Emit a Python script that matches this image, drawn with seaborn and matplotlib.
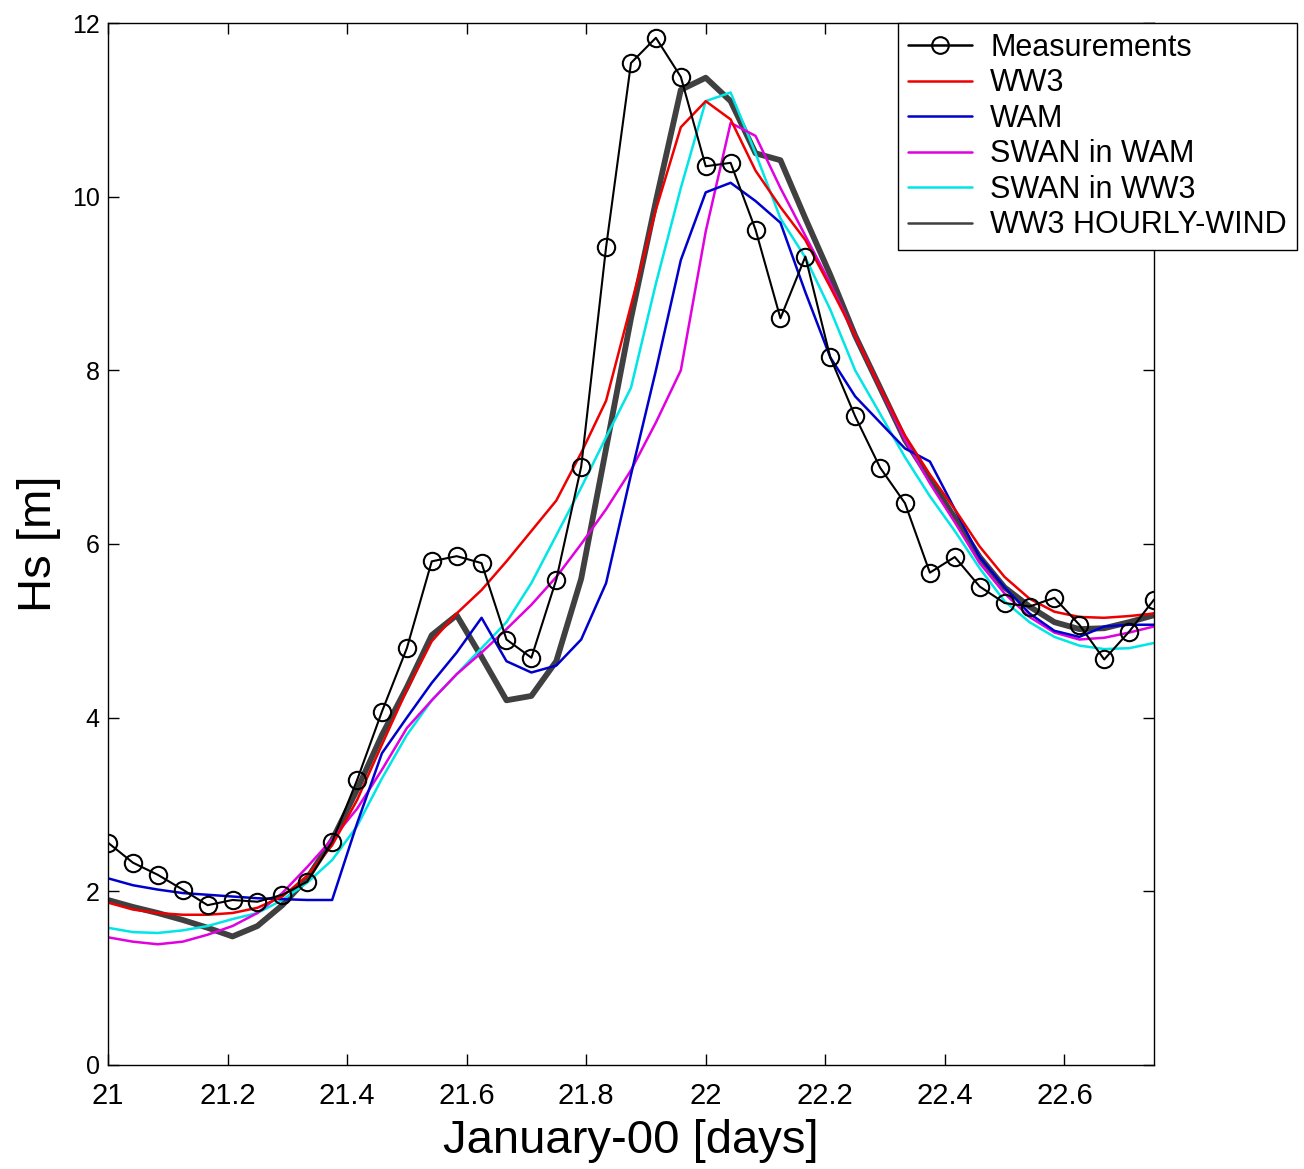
import numpy as np
import pandas as pd
import matplotlib
matplotlib.use("Agg")
import matplotlib.pyplot as plt
import seaborn as sns

sns.set_style("ticks")
plt.rcParams['font.family'] = ['Liberation Sans', 'DejaVu Sans']
plt.rcParams['text.color'] = 'black'
plt.rcParams['axes.labelcolor'] = 'black'

# hourly time axis, January 21 00:00 -> 22 18:00
hours = np.arange(43)
days = 21 + hours / 24.0

meas = [2.56, 2.33, 2.19, 2.02, 1.84, 1.90, 1.88, 1.96, 2.11, 2.57,
        3.28, 4.07, 4.80, 5.80, 5.86, 5.78, 4.90, 4.69, 5.59, 6.89,
        9.42, 11.54, 11.83, 11.38, 10.35, 10.39, 9.62, 8.60, 9.31, 8.15,
        7.47, 6.88, 6.47, 5.67, 5.85, 5.51, 5.32, 5.28, 5.38, 5.07,
        4.67, 4.99, 5.36]

ww3 = [1.87, 1.79, 1.75, 1.73, 1.73, 1.75, 1.81, 1.94, 2.18, 2.53,
       3.05, 3.69, 4.32, 4.88, 5.20, 5.47, 5.80, 6.15, 6.50, 7.05,
       7.65, 8.75, 9.85, 10.80, 11.10, 10.89, 10.30, 9.88, 9.50, 8.96,
       8.40, 7.80, 7.25, 6.80, 6.40, 5.97, 5.62, 5.37, 5.22, 5.16,
       5.15, 5.17, 5.20]

wam = [2.15, 2.07, 2.02, 1.98, 1.96, 1.94, 1.92, 1.91, 1.90, 1.90,
       2.78, 3.59, 4.00, 4.40, 4.75, 5.15, 4.65, 4.52, 4.60, 4.90,
       5.55, 6.80, 8.00, 9.27, 10.05, 10.16, 9.95, 9.70, 8.90, 8.15,
       7.70, 7.40, 7.10, 6.95, 6.40, 5.85, 5.50, 5.20, 5.00, 4.93,
       5.05, 5.07, 5.07]

swan_wam = [1.47, 1.42, 1.39, 1.42, 1.50, 1.60, 1.75, 1.98, 2.28, 2.60,
            2.95, 3.40, 3.88, 4.20, 4.50, 4.75, 5.02, 5.30, 5.62, 6.00,
            6.40, 6.85, 7.40, 8.00, 9.60, 10.85, 10.70, 10.10, 9.55, 9.00,
            8.40, 7.80, 7.20, 6.70, 6.25, 5.78, 5.43, 5.16, 4.98, 4.90,
            4.92, 4.98, 5.05]

swan_ww3 = [1.58, 1.53, 1.52, 1.55, 1.60, 1.68, 1.75, 1.90, 2.10, 2.36,
            2.75, 3.30, 3.80, 4.20, 4.50, 4.80, 5.10, 5.55, 6.10, 6.65,
            7.23, 7.80, 9.00, 10.10, 11.10, 11.20, 10.50, 9.75, 9.30, 8.70,
            8.00, 7.50, 7.00, 6.55, 6.15, 5.72, 5.34, 5.10, 4.93, 4.83,
            4.79, 4.80, 4.86]

ww3_hourly = [1.90, 1.82, 1.75, 1.67, 1.58, 1.48, 1.60, 1.84, 2.15, 2.59,
              3.17, 3.80, 4.35, 4.95, 5.18, 4.70, 4.20, 4.25, 4.65, 5.60,
              7.10, 8.60, 9.95, 11.23, 11.37, 11.10, 10.50, 10.42, 9.75, 9.10,
              8.40, 7.80, 7.20, 6.75, 6.30, 5.85, 5.50, 5.28, 5.10, 5.02,
              5.03, 5.10, 5.18]

x_ticks = [21, 21.2, 21.4, 21.6, 21.8, 22, 22.2, 22.4, 22.6]
y_ticks = [0, 2, 4, 6, 8, 10, 12]

fig = plt.figure(figsize=(13.04, 11.69), dpi=100)
ax = fig.add_axes([0.0828, 0.0890, 0.8022, 0.8913])

# thick dark line first, then model runs, then measurements on top
sns.lineplot(x=days, y=ww3_hourly, ax=ax, color='#404040', linewidth=4.2,
             label='WW3 HOURLY-WIND', sort=False)
sns.lineplot(x=days, y=swan_ww3, ax=ax, color='#00e5e5', linewidth=1.8,
             label='SWAN in WW3', sort=False)
sns.lineplot(x=days, y=swan_wam, ax=ax, color='#e000e0', linewidth=1.8,
             label='SWAN in WAM', sort=False)
sns.lineplot(x=days, y=wam, ax=ax, color='#0000cc', linewidth=1.8,
             label='WAM', sort=False)
sns.lineplot(x=days, y=ww3, ax=ax, color='#ee0000', linewidth=1.8,
             label='WW3', sort=False)
sns.lineplot(x=days, y=meas, ax=ax, color='black', linewidth=1.5,
             marker='o', markersize=12.5, markerfacecolor='none',
             markeredgecolor='black', markeredgewidth=1.5,
             label='Measurements', sort=False)

ax.set_xlim(21, 22.75)
ax.set_ylim(0, 12)
ax.set_xticks(x_ticks)
ax.set_xticklabels([f'{v:g}' for v in x_ticks])
ax.set_yticks(y_ticks)
ax.tick_params(direction='in', length=8, width=1,
               top=True, right=True, colors='black')
ax.tick_params(axis='x', pad=12, labelsize=21)
ax.tick_params(axis='y', pad=6, labelsize=18)
for s in ax.spines.values():
    s.set_color('black')
    s.set_linewidth(1.0)

ax.set_xlabel('January-00 [days]', fontsize=34, labelpad=7)
ax.set_ylabel('Hs [m]', fontsize=34, labelpad=8)

handles, labels = ax.get_legend_handles_labels()
order = ['Measurements', 'WW3', 'WAM', 'SWAN in WAM', 'SWAN in WW3', 'WW3 HOURLY-WIND']
hmap = dict(zip(labels, handles))
ax.get_legend().remove()
leg = fig.legend([hmap[k] for k in order], order, loc='upper left',
                 bbox_to_anchor=(0.6887, 0.9803), fontsize=22,
                 frameon=True, fancybox=False, shadow=False,
                 handlelength=2.1, handletextpad=0.6, labelspacing=0.18,
                 borderpad=0.32, borderaxespad=0)
leg.get_frame().set_edgecolor('black')
leg.get_frame().set_linewidth(1.0)
leg.get_frame().set_alpha(1)
for lh in leg.get_lines():
    lh.set_linewidth(1.8)
leg.get_lines()[0].set_markersize(12)

fig.savefig('out.png', dpi=100, facecolor='white')
